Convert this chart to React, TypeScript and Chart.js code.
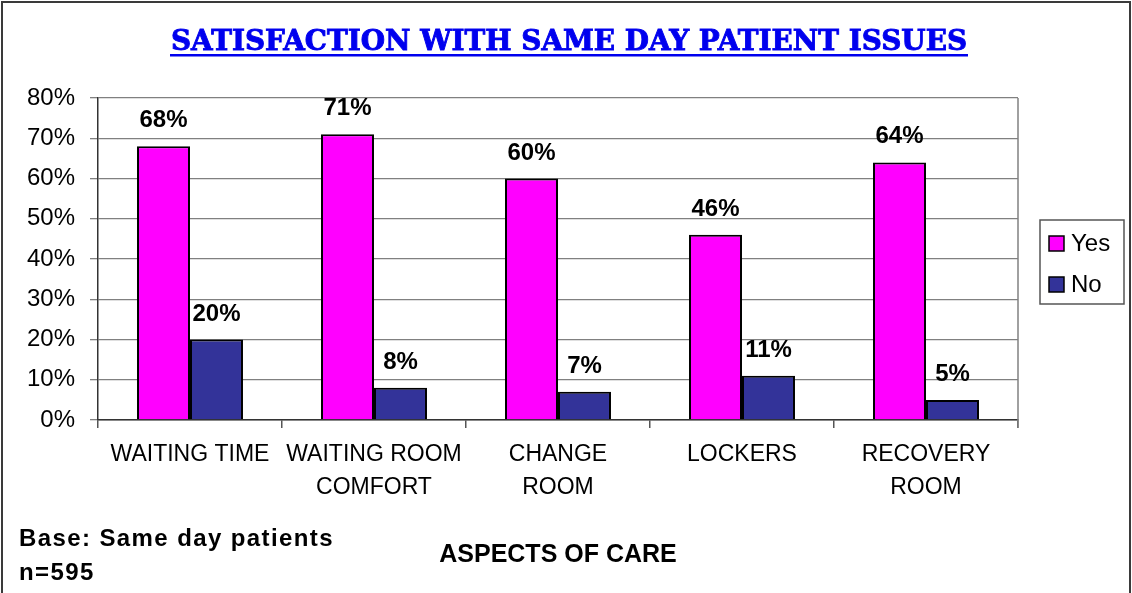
import React, { useEffect, useRef } from "react";
import { Chart, registerables } from "chart.js";

Chart.register(...registerables);

const chartTitle = "SATISFACTION WITH SAME DAY PATIENT ISSUES";
const categories: string[][] = [
  ["WAITING TIME"],
  ["WAITING ROOM", "COMFORT"],
  ["CHANGE", "ROOM"],
  ["LOCKERS"],
  ["RECOVERY", "ROOM"],
];
const seriesNames = ["Yes", "No"];
const yesValues = [68, 71, 60, 46, 64];
const noValues = [20, 8, 7, 11, 5];
const seriesColors = ["#FF00FF", "#333399"];
const yMin = 0;
const yMax = 80;
const yStep = 10;
const xAxisTitle = "ASPECTS OF CARE";
const footnoteLines = ["Base: Same day patients", "n=595"];

const SANS = "'Liberation Sans', Arial, Helvetica, sans-serif";
const SERIF = "'DejaVu Serif', 'Liberation Serif', serif";

const decorPlugin = {
  id: "decor",
  afterDraw(chart: any) {
    const ctx = chart.ctx as CanvasRenderingContext2D;
    const area = chart.chartArea;
    ctx.save();

    // outer frame
    ctx.strokeStyle = "#3a3a3a";
    ctx.lineWidth = 2;
    ctx.strokeRect(2, 2, chart.width - 4, chart.height + 20);

    // right edge of plot area
    ctx.strokeStyle = "#808080";
    ctx.lineWidth = 1.5;
    ctx.beginPath();
    ctx.moveTo(area.right, area.top);
    ctx.lineTo(area.right, area.bottom + 8);
    ctx.stroke();

    // title
    const targetWidth = 796;
    ctx.font = `bold 25px ${SERIF}`;
    const w0 = ctx.measureText(chartTitle).width;
    const size = (25 * targetWidth) / w0;
    ctx.font = `bold ${size.toFixed(2)}px ${SERIF}`;
    const tw = ctx.measureText(chartTitle).width;
    const cx = 569;
    ctx.fillStyle = "#0000EE";
    ctx.strokeStyle = "#0000EE";
    ctx.lineWidth = 0.9;
    ctx.textAlign = "center";
    ctx.textBaseline = "alphabetic";
    ctx.fillText(chartTitle, cx, 50);
    ctx.strokeText(chartTitle, cx, 50);
    ctx.fillRect(cx - tw / 2 - 1, 54, tw + 2, 2.5);

    // data labels
    ctx.fillStyle = "#000";
    ctx.font = `bold 24px ${SANS}`;
    ctx.textAlign = "center";
    ctx.textBaseline = "alphabetic";
    chart.data.datasets.forEach((ds: any, i: number) => {
      const meta = chart.getDatasetMeta(i);
      meta.data.forEach((el: any, j: number) => {
        ctx.fillText(`${ds.data[j]}%`, el.x, el.y - 19);
      });
    });

    // legend
    ctx.strokeStyle = "#555";
    ctx.lineWidth = 1.5;
    ctx.strokeRect(1040, 220, 84, 84);
    ctx.font = `24px ${SANS}`;
    ctx.textAlign = "left";
    ctx.textBaseline = "middle";
    chart.data.datasets.forEach((ds: any, i: number) => {
      const y = 236 + i * 41;
      ctx.fillStyle = ds.backgroundColor;
      ctx.fillRect(1049, y, 15, 15);
      ctx.strokeStyle = "#000";
      ctx.lineWidth = 1.5;
      ctx.strokeRect(1049, y, 15, 15);
      ctx.fillStyle = "#000";
      ctx.fillText(ds.label, 1071, y + 8);
    });

    // footnote
    ctx.font = `bold 24px ${SANS}`;
    ctx.textAlign = "left";
    ctx.textBaseline = "alphabetic";
    try {
      (ctx as any).letterSpacing = "1.4px";
    } catch (e) {}
    ctx.fillStyle = "#000";
    footnoteLines.forEach((line, i) => {
      ctx.fillText(line, 19, 546 + i * 34);
    });
    try {
      (ctx as any).letterSpacing = "0px";
    } catch (e) {}

    ctx.restore();
  },
};

export default function App() {
  const canvasRef = useRef<HTMLCanvasElement | null>(null);

  useEffect(() => {
    const canvas = canvasRef.current;
    if (!canvas) return;
    const chart = new Chart(canvas, {
      type: "bar",
      data: {
        labels: categories,
        datasets: [
          {
            label: seriesNames[0],
            data: yesValues,
            backgroundColor: seriesColors[0],
            borderColor: "#000",
            borderWidth: 2,
            categoryPercentage: 0.576,
            barPercentage: 1,
          },
          {
            label: seriesNames[1],
            data: noValues,
            backgroundColor: seriesColors[1],
            borderColor: "#000",
            borderWidth: 2,
            categoryPercentage: 0.576,
            barPercentage: 1,
          },
        ],
      },
      options: {
        responsive: false,
        animation: false,
        layout: { padding: { top: 98, right: 114, bottom: 0, left: 0 } },
        plugins: {
          legend: { display: false },
          title: { display: false },
          tooltip: { enabled: false },
        },
        scales: {
          y: {
            min: yMin,
            max: yMax,
            afterFit: (s: any) => {
              s.width = 98;
            },
            ticks: {
              stepSize: yStep,
              padding: 15,
              color: "#000",
              font: { family: SANS, size: 24 },
              callback: (v: any) => `${v}%`,
            },
            grid: {
              color: "#808080",
              lineWidth: 1.3,
              tickLength: 8,
            },
            border: { color: "#333", width: 1.5 },
          },
          x: {
            afterFit: (s: any) => {
              s.height = 173;
            },
            ticks: {
              autoSkip: false,
              maxRotation: 0,
              padding: 10,
              color: "#000",
              font: { family: SANS, size: 23, lineHeight: 1.43 },
            },
            grid: {
              drawOnChartArea: false,
              drawTicks: true,
              tickLength: 8,
              color: "#555",
              lineWidth: 1.5,
            },
            border: { color: "#333", width: 1.5 },
            title: {
              display: true,
              text: xAxisTitle,
              color: "#000",
              font: { family: SANS, size: 25, weight: "bold", lineHeight: 1.2 },
              padding: { top: 0, bottom: 23 },
            },
          },
        },
      },
      plugins: [decorPlugin],
    });
    return () => chart.destroy();
  }, []);

  return (
    <div
      style={{
        position: "fixed",
        left: 0,
        top: 0,
        width: 1132,
        height: 593,
        background: "#fff",
      }}
    >
      <canvas ref={canvasRef} width={1132} height={593} style={{ display: "block" }} />
    </div>
  );
}
